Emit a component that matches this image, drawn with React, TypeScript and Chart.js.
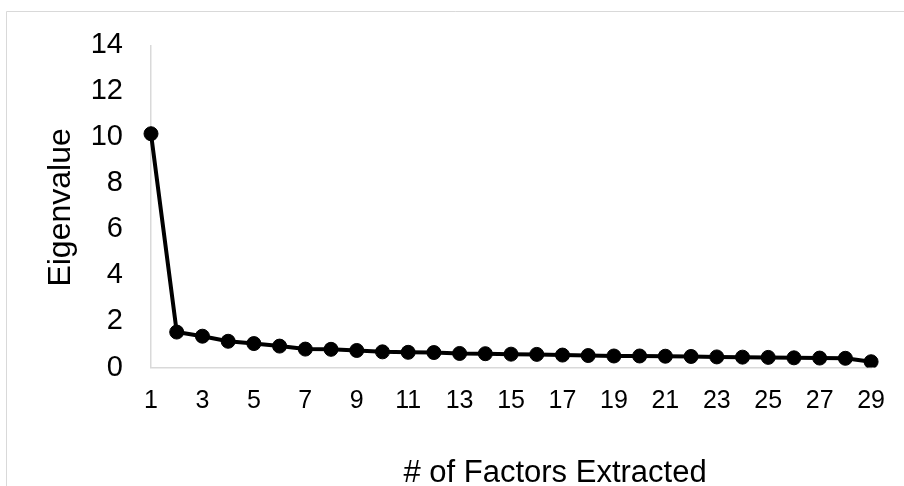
import React, { useEffect, useRef } from "react";
import { Chart, registerables } from "chart.js";

Chart.register(...registerables);

const factors: string[] = [
  "1","2","3","4","5","6","7","8","9","10","11","12","13","14","15",
  "16","17","18","19","20","21","22","23","24","25","26","27","28","29",
];
const eigenvalues: number[] = [
  10.16, 1.54, 1.36, 1.14, 1.04, 0.93, 0.8, 0.79, 0.74, 0.68, 0.66, 0.65,
  0.61, 0.6, 0.58, 0.57, 0.54, 0.52, 0.5, 0.5, 0.49, 0.48, 0.46, 0.45,
  0.44, 0.42, 0.41, 0.4, 0.25,
];
const yTicks: number[] = [0, 2, 4, 6, 8, 10, 12, 14];
const xTitle = "# of Factors Extracted";
const yTitle = "Eigenvalue";

const FONT = "'Liberation Sans', Arial, sans-serif";

const framePlugin = {
  id: "frame",
  beforeDraw(chart: any) {
    const ctx = chart.ctx;
    ctx.save();
    ctx.fillStyle = "#ffffff";
    ctx.fillRect(0, 0, chart.width, chart.height);
    ctx.strokeStyle = "#d9d9d9";
    ctx.lineWidth = 1;
    ctx.beginPath();
    ctx.moveTo(6.5, chart.height);
    ctx.lineTo(6.5, 11.5);
    ctx.lineTo(chart.width, 11.5);
    ctx.stroke();
    ctx.restore();
  },
  afterDraw(chart: any) {
    const ctx = chart.ctx;
    const area = chart.chartArea;
    ctx.save();
    ctx.fillStyle = "#000000";
    ctx.font = `31px ${FONT}`;
    ctx.textAlign = "center";
    ctx.textBaseline = "alphabetic";
    ctx.fillText(xTitle, (area.left + area.right) / 2 + 44, 482);
    ctx.font = `32px ${FONT}`;
    ctx.translate(70, (area.top + area.bottom) / 2 + 1);
    ctx.rotate(-Math.PI / 2);
    ctx.fillText(yTitle, 0, 0);
    ctx.restore();
  },
};

export default function App() {
  const ref = useRef<HTMLCanvasElement | null>(null);
  useEffect(() => {
    if (!ref.current) return;
    const chart = new Chart(ref.current, {
      type: "line",
      data: {
        labels: factors,
        datasets: [
          {
            data: eigenvalues,
            borderColor: "#000000",
            backgroundColor: "#000000",
            borderWidth: 4,
            pointRadius: 7,
            pointBorderWidth: 1,
            pointBackgroundColor: "#000000",
            pointBorderColor: "#000000",
            tension: 0,
          },
        ],
      },
      plugins: [framePlugin],
      options: {
        animation: false,
        responsive: false,
        maintainAspectRatio: false,
        layout: { padding: { left: 0, right: 31, top: 43, bottom: 0 } },
        plugins: {
          legend: { display: false },
          tooltip: { enabled: false },
          title: { display: false },
        },
        scales: {
          x: {
            offset: false,
            grid: { display: false, drawTicks: false },
            border: { display: true, color: "#d9d9d9", width: 1.5 },
            ticks: {
              autoSkip: false,
              maxRotation: 0,
              padding: 19,
              color: "#000000",
              font: { family: FONT, size: 25 },
              callback: (_v: any, i: number) => (i % 2 === 0 ? factors[i] : ""),
            },
            afterFit: (s: any) => {
              s.height = 118.5;
            },
          },
          y: {
            min: 0,
            max: 14,
            grid: { display: false, drawTicks: false },
            border: { display: true, color: "#d9d9d9", width: 1.5 },
            afterBuildTicks: (s: any) => {
              s.ticks = yTicks.map((v) => ({ value: v }));
            },
            ticks: {
              padding: 28,
              color: "#000000",
              font: { family: FONT, size: 29 },
            },
            afterFit: (s: any) => {
              s.width = 151;
            },
          },
        },
      },
    });
    return () => chart.destroy();
  }, []);
  return (
    <div style={{ position: "absolute", left: 0, top: 0, width: 904, height: 486 }}>
      <canvas ref={ref} width={904} height={486} />
    </div>
  );
}
